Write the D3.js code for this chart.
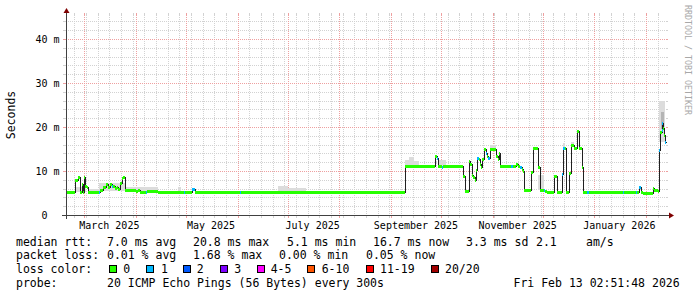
<!DOCTYPE html>
<html>
<head>
<meta charset="utf-8">
<script src="https://cdn.jsdelivr.net/npm/d3@7"></script>
<style>
html, body { margin: 0; padding: 0; background: #fff; }
svg text { font-family: "DejaVu Sans Mono", monospace; fill: #000; }
</style>
</head>
<body>
<div id="chart"></div>
<script>
// median rtt per step (ms) and lost pings out of 20
const medianTimes = [
    "2025-02-18T00", "2025-02-23T10", "2025-02-25T00", "2025-02-26T05", "2025-02-27T10",
    "2025-02-28T00", "2025-02-28T19", "2025-03-01T14", "2025-03-02T10", "2025-03-03T00",
    "2025-03-09T23", "2025-03-10T14", "2025-03-12T05", "2025-03-14T00", "2025-03-15T09",
    "2025-03-16T10", "2025-03-17T10", "2025-03-18T05", "2025-03-19T10", "2025-03-20T10",
    "2025-03-21T05", "2025-03-22T10", "2025-03-23T10", "2025-03-24T09", "2025-03-25T10",
    "2025-04-01T07", "2025-04-02T09", "2025-04-03T10", "2025-04-07T00", "2025-04-07T14",
    "2025-04-14T05", "2025-04-29T19", "2025-04-30T10", "2025-05-04T10", "2025-05-05T05",
    "2025-05-06T10", "2025-06-02T10", "2025-06-03T00", "2025-09-09T10", "2025-09-27T10",
    "2025-09-28T14", "2025-09-29T09", "2025-10-01T10", "2025-10-02T05", "2025-10-14T09",
    "2025-10-15T10", "2025-10-17T15", "2025-10-18T14", "2025-10-19T10", "2025-10-20T09",
    "2025-10-21T10", "2025-10-22T00", "2025-10-22T19", "2025-10-23T15", "2025-10-24T10",
    "2025-10-25T00", "2025-10-25T19", "2025-10-26T23", "2025-10-28T00", "2025-10-28T19",
    "2025-10-29T09", "2025-10-30T10", "2025-11-03T00", "2025-11-04T00", "2025-11-04T19",
    "2025-11-05T14", "2025-11-12T07", "2025-11-13T05", "2025-11-15T00", "2025-11-16T09",
    "2025-11-17T10", "2025-11-18T10", "2025-11-19T09", "2025-11-19T23", "2025-11-24T00",
    "2025-11-25T00", "2025-11-28T09", "2025-11-29T10", "2025-12-01T19", "2025-12-02T14",
    "2025-12-03T10", "2025-12-07T23", "2025-12-09T10", "2025-12-12T10", "2025-12-13T09",
    "2025-12-14T05", "2025-12-15T00", "2025-12-16T23", "2025-12-18T00", "2025-12-19T19",
    "2025-12-21T10", "2025-12-22T23", "2025-12-24T14", "2025-12-25T09", "2025-12-27T19",
    "2025-12-28T15", "2026-01-18T05", "2026-01-19T00", "2026-01-25T20", "2026-01-26T14",
    "2026-01-27T23", "2026-01-29T00", "2026-01-30T09", "2026-02-05T00", "2026-02-05T19",
    "2026-02-08T00", "2026-02-08T19", "2026-02-09T10", "2026-02-10T10", "2026-02-10T19",
    "2026-02-11T09", "2026-02-11T23", "2026-02-12T10", "2026-02-13T00"
];
const medianMs = [
    5.2, 8.0, 8.6, 5.2, 7.1, 5.2, 8.6, 6.6, 6.4, 5.3,
    5.3, 5.7, 6.4, 7.0, 6.3, 7.0, 6.7, 6.7, 6.1, 6.4,
    5.9, 7.2, 8.3, 8.6, 5.7, 5.4, 5.7, 5.3, 5.2, 5.4,
    5.2, 5.2, 5.2, 5.9, 6.0, 5.2, 5.2, 5.2, 11.1, 13.4,
    12.9, 11.1, 11.0, 11.1, 8.9, 5.5, 12.3, 11.6, 9.1, 8.7,
    8.0, 10.2, 13.0, 12.7, 11.7, 10.8, 12.7, 14.9, 14.0, 13.5,
    12.9, 15.0, 13.3, 12.7, 14.2, 11.1, 11.1, 11.1, 11.7, 11.1,
    10.8, 10.5, 10.0, 5.7, 9.8, 15.2, 11.0, 5.7, 5.7, 5.5,
    5.3, 8.9, 5.3, 9.3, 15.2, 15.2, 5.3, 9.5, 15.8, 15.2,
    19.2, 15.2, 10.8, 5.3, 5.3, 5.3, 5.3, 5.3, 5.3, 5.3,
    6.3, 5.3, 5.1, 6.1, 5.7, 5.5, 14.8, 18.9, 19.3, 20.8,
    19.7, 18.2, 16.7, 16.7
];
const lostPings = [
    0, 0, 0, 0, 0, 0, 0, 0, 0, 0,
    1, 0, 0, 0, 0, 0, 1, 0, 0, 0,
    0, 0, 0, 0, 0, 0, 0, 0, 1, 0,
    0, 1, 0, 1, 1, 0, 1, 0, 0, 0,
    1, 0, 1, 0, 0, 0, 0, 0, 0, 0,
    0, 0, 1, 0, 0, 0, 0, 0, 1, 0,
    1, 0, 0, 0, 0, 0, 1, 0, 0, 0,
    1, 0, 0, 0, 0, 0, 0, 0, 1, 0,
    0, 0, 0, 1, 1, 0, 0, 0, 0, 0,
    0, 0, 0, 0, 1, 0, 1, 0, 1, 0,
    1, 0, 0, 0, 0, 0, 1, 0, 1, 1,
    0, 0, 1, 1
];

// smoke (spread of the pings), ms
const smokeStart = ["2025-02-24T00", "2025-03-03T00", "2025-03-10T00", "2025-03-25T10", "2025-04-26T00",
    "2025-06-25T00", "2025-07-01T00", "2025-09-09T12", "2025-09-12T00", "2025-09-15T00",
    "2025-09-30T00", "2025-10-30T10", "2025-11-28T00", "2025-12-13T00", "2025-12-18T00",
    "2026-02-09T00", "2026-02-10T00"];
const smokeEnd = ["2025-03-02T00", "2025-03-10T00", "2025-03-25T10", "2025-04-14T00", "2025-04-28T00",
    "2025-07-01T00", "2025-07-12T00", "2025-09-12T00", "2025-09-15T00", "2025-09-18T00",
    "2025-10-04T00", "2025-11-03T00", "2025-12-01T12", "2025-12-14T12", "2025-12-20T00",
    "2026-02-12T12", "2026-02-12T00"];
const smokeLow = [5.2, 5.3, 5.5, 5.4, 5.2, 5.2, 5.2, 11.1, 11.1, 11.1, 11.1, 15.0, 5.7, 15.2, 15.8, 16.5, 19.5];
const smokeHigh = [6.3, 6.0, 7.2, 6.3, 6.4, 6.6, 6.2, 12.5, 13.1, 12.3, 12.6, 15.8, 9.1, 16.4, 16.6, 26.0, 23.5];
const smokeDark = [0, 0, 0, 0, 0, 0, 0, 0, 0, 0, 0, 0, 0, 0, 0, 0, 1];

const yTicks = [0, 10, 20, 30, 40];
const yTickLabels = [" 0", "10 m", "20 m", "30 m", "40 m"];
const monthLabelTimes = ["2025-03-16T00", "2025-05-16T00", "2025-07-16T00", "2025-09-16T00", "2025-11-16T00", "2026-01-16T00"];
const monthLabels = ["March 2025", "May 2025", "July 2025", "September 2025", "November 2025", "January 2026"];

const rttTexts = ["median rtt:", "7.0 ms avg", "20.8 ms max", "5.1 ms min", "16.7 ms now", "3.3 ms sd", "2.1", "am/s"];
const lossTexts = ["packet loss:", "0.01 % avg", "1.68 % max", "0.00 % min", "0.05 % now"];
const lossBands = ["0", "1", "2", "3", "4-5", "6-10", "11-19", "20/20"];
const probeTexts = ["probe:", "20 ICMP Echo Pings (56 Bytes) every 300s", "Fri Feb 13 02:51:48 2026"];

const lossColors = ["#26ff00", "#00b8ff", "#0059ff", "#7e00ff", "#ff00ff", "#ff5500", "#ff0000", "#a10000"];

const width = 697;
const height = 297;
const X0 = 66, X1 = 666, Y0 = 215, Y1 = 15;

const parse = d3.timeParse("%Y-%m-%dT%H");
const start = parse("2025-02-18T00");
const end = parse("2026-02-13T00");

const x = d3.scaleTime().domain([start, end]).range([X0, X1]);
const y = d3.scaleLinear().domain([0, 45.45]).range([Y0, Y1]);
const lossColor = d3.scaleThreshold().domain([1, 2, 3, 4, 6, 11, 20]).range(lossColors);
const px = v => Math.round(v) + 0.5;

const svg = d3.select("#chart")
    .append("svg")
    .attr("width", width)
    .attr("height", height)
    .style("display", "block");

svg.append("rect").attr("width", width).attr("height", height).attr("fill", "#fff");

// grid: dotted inside, short solid ticks outside
const grid = svg.append("g").attr("shape-rendering", "crispEdges");

function vGrid(dates, color) {
    dates.forEach(d => {
        const xx = px(x(d));
        grid.append("line").attr("x1", xx).attr("x2", xx).attr("y1", Y1).attr("y2", Y0)
            .attr("stroke", color).attr("stroke-dasharray", "1,1");
        grid.append("line").attr("x1", xx).attr("x2", xx).attr("y1", Y1 - 2).attr("y2", Y1)
            .attr("stroke", color);
        grid.append("line").attr("x1", xx).attr("x2", xx).attr("y1", Y0).attr("y2", Y0 + 3)
            .attr("stroke", color);
    });
}
function hGrid(values, color) {
    values.forEach(v => {
        const yy = px(y(v));
        grid.append("line").attr("x1", X0).attr("x2", X1).attr("y1", yy).attr("y2", yy)
            .attr("stroke", color).attr("stroke-dasharray", "1,1");
        grid.append("line").attr("x1", X0 - 3).attr("x2", X0).attr("y1", yy).attr("y2", yy)
            .attr("stroke", color);
        grid.append("line").attr("x1", X1).attr("x2", X1 + 2).attr("y1", yy).attr("y2", yy)
            .attr("stroke", color);
    });
}

vGrid(d3.timeSunday.range(start, end), "#d2d2d2");
hGrid(d3.range(2, 46, 2).filter(v => v % 10 !== 0), "#d2d2d2");
vGrid(d3.timeMonth.range(d3.timeMonth.ceil(start), end), "#eea0a0");
hGrid(yTicks.filter(v => v > 0), "#eea0a0");

// smoke
svg.append("g").attr("shape-rendering", "crispEdges")
    .selectAll("rect")
    .data(smokeStart.map((s, i) => ({ s: parse(s), e: parse(smokeEnd[i]), lo: smokeLow[i], hi: smokeHigh[i], dark: smokeDark[i] })))
    .enter()
    .append("rect")
    .attr("x", d => Math.round(x(d.s)))
    .attr("width", d => Math.max(1, Math.round(x(d.e)) - Math.round(x(d.s))))
    .attr("y", d => Math.round(y(d.hi)))
    .attr("height", d => Math.round(y(d.lo)) - Math.round(y(d.hi)))
    .attr("fill", d => d.dark ? "#b4b4b4" : "#dcdcdc");

// median
const points = medianTimes.map((t, i) => ({ t: parse(t), v: medianMs[i], loss: lostPings[i] }));

const line = d3.line()
    .x(d => px(x(d.t)))
    .y(d => px(y(d.v)))
    .curve(d3.curveStepAfter);

svg.append("path")
    .datum(points)
    .attr("d", line)
    .attr("fill", "none")
    .attr("stroke", "#202020")
    .attr("stroke-width", 1)
    .attr("shape-rendering", "crispEdges");

svg.append("g").attr("shape-rendering", "crispEdges")
    .selectAll("rect")
    .data(points.slice(0, -1).map((d, i) => ({ s: d.t, e: points[i + 1].t, v: d.v, loss: d.loss })))
    .enter()
    .append("rect")
    .attr("x", d => Math.round(x(d.s)))
    .attr("width", d => Math.max(1, Math.round(x(d.e)) - Math.round(x(d.s))))
    .attr("y", d => Math.round(y(d.v)) - 1)
    .attr("height", 3)
    .attr("fill", d => lossColor(d.loss));

// axes
const axis = svg.append("g").attr("shape-rendering", "crispEdges");
axis.append("line").attr("x1", X0 - 4).attr("x2", X1 + 4).attr("y1", Y0 + 0.5).attr("y2", Y0 + 0.5).attr("stroke", "#404040");
axis.append("line").attr("x1", X0 + 0.5).attr("x2", X0 + 0.5).attr("y1", Y0 + 4).attr("y2", Y1 - 3).attr("stroke", "#404040");
svg.append("path")
    .attr("d", `M${X1 + 3},${Y0 - 2.5} L${X1 + 8},${Y0 + 0.5} L${X1 + 3},${Y0 + 3.5} Z`)
    .attr("fill", "#7f0000");
svg.append("path")
    .attr("d", `M${X0 - 2.5},${Y1 - 2} L${X0 + 0.5},${Y1 - 7} L${X0 + 3.5},${Y1 - 2} Z`)
    .attr("fill", "#7f0000");

// tick labels
svg.append("g")
    .selectAll("text")
    .data(yTicks)
    .enter()
    .append("text")
    .attr("xml:space", "preserve")
    .attr("x", 35.5)
    .attr("y", d => y(d))
    .attr("dy", "0.36em")
    .style("font-size", "10px")
    .text((d, i) => yTickLabels[i]);

svg.append("g")
    .selectAll("text")
    .data(monthLabelTimes)
    .enter()
    .append("text")
    .attr("x", d => x(parse(d)))
    .attr("y", 228.5)
    .attr("text-anchor", "middle")
    .style("font-size", "10px")
    .text((d, i) => monthLabels[i]);

svg.append("text")
    .attr("transform", "translate(15,115) rotate(-90)")
    .attr("text-anchor", "middle")
    .style("font-size", "11.5px")
    .text("Seconds");

svg.append("text")
    .attr("transform", "translate(684.5,5) rotate(90)")
    .style("font-size", "8.3px")
    .style("fill", "#a8a8a8")
    .text("RRDTOOL / TOBI OETIKER");

// legend
const legend = svg.append("g").style("font-size", "11.5px");
const rows = [245.5, 259.2, 272.9, 286.6];

function legendRow(texts, xs, yy) {
    legend.append("g")
        .selectAll("text")
        .data(texts)
        .enter()
        .append("text")
        .attr("x", (d, i) => xs[i])
        .attr("y", yy)
        .text(d => d);
}

legendRow(rttTexts, [16, 107, 193, 287, 373, 466, 536, 586], rows[0]);
legendRow(lossTexts, [16, 107, 193, 279, 366], rows[1]);
legendRow(["loss color:"], [16], rows[2]);
legendRow(probeTexts, [16, 107, 513.5], rows[3]);

const boxX = [109, 146, 182.5, 219.5, 256.5, 307, 365.5, 430.5];
const bandLabelX = [123.3, 161, 196.7, 234.3, 270.7, 321.7, 380, 445];

legend.append("g")
    .attr("shape-rendering", "crispEdges")
    .selectAll("rect")
    .data(lossBands)
    .enter()
    .append("rect")
    .attr("x", (d, i) => Math.round(boxX[i]) + 0.5)
    .attr("y", 265.5)
    .attr("width", 7)
    .attr("height", 7)
    .attr("fill", (d, i) => lossColors[i])
    .attr("stroke", "#000");

legendRow(lossBands, bandLabelX, rows[2]);
</script>
</body>
</html>
